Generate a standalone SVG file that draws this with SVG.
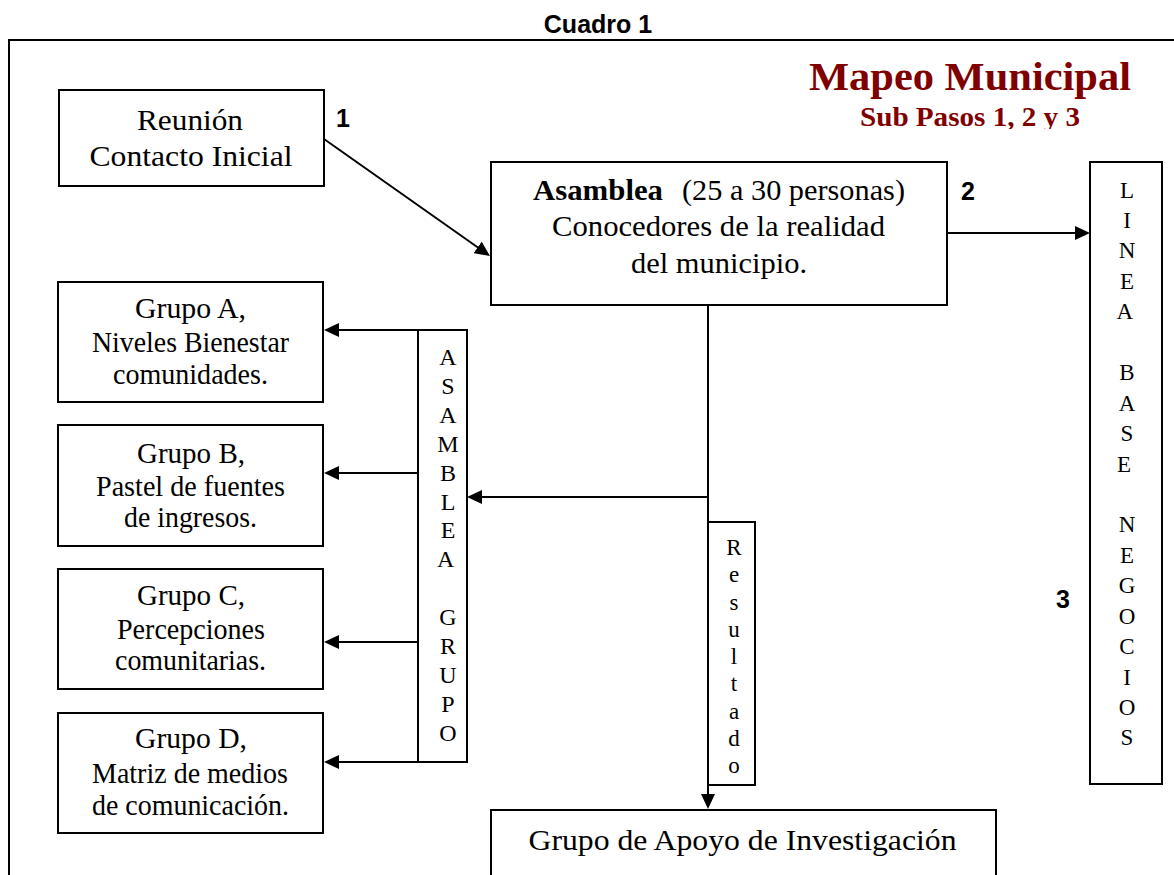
<svg xmlns="http://www.w3.org/2000/svg" width="1174" height="875" viewBox="0 0 1174 875">
<defs>
<style>
.box{fill:#fff;stroke:#000;stroke-width:2}
.frame{fill:none;stroke:#000;stroke-width:2}
.conn{fill:none;stroke:#000;stroke-width:2}
.serif{font-family:"Liberation Serif","Times New Roman",serif;fill:#000}
.c{text-anchor:middle}
.f28{font-size:30px}
.f27{font-size:28.5px}
.f29{font-size:30px}
.num{font-family:"Liberation Sans",Arial,sans-serif;font-weight:bold;font-size:25px;fill:#000;text-anchor:middle}
.title{font-family:"Liberation Serif","Times New Roman",serif;font-weight:bold;fill:#800000;text-anchor:middle}
.v{font-family:"Liberation Serif","Times New Roman",serif;font-size:23px;text-anchor:middle;fill:#000}
.v23{font-size:24px}
</style>
<marker id="arr" markerUnits="userSpaceOnUse" markerWidth="16" markerHeight="14" refX="12" refY="7" orient="auto"><path d="M0,0 L15,7 L0,14 z" fill="#000"/></marker>
<clipPath id="clipSub"><rect x="800" y="95" width="330" height="34"/></clipPath>
</defs>

<path class="frame" d="M9,875 V40 H1174"/>
<text class="num" x="598" y="33">Cuadro 1</text>

<g id="title">
<text class="title" x="970" y="90" font-size="41" textLength="322" lengthAdjust="spacingAndGlyphs">Mapeo Municipal</text>
<text class="title" x="970" y="126" font-size="27" textLength="220" lengthAdjust="spacingAndGlyphs" clip-path="url(#clipSub)">Sub Pasos 1, 2 y 3</text>
</g>

<g id="labels">
<text class="num" x="343" y="127">1</text>
<text class="num" x="968" y="200">2</text>
<text class="num" x="1063" y="608">3</text>
</g>

<g id="connectors">
<line class="conn" x1="324" y1="139" x2="487.5" y2="254.3" marker-end="url(#arr)"/>
<line class="conn" x1="947" y1="233" x2="1087" y2="233" marker-end="url(#arr)"/>
<line class="conn" x1="708" y1="305" x2="708" y2="806" marker-end="url(#arr)"/>
<line class="conn" x1="708" y1="497" x2="470" y2="497" marker-end="url(#arr)"/>
<line class="conn" x1="418" y1="330" x2="327" y2="330" marker-end="url(#arr)"/>
<line class="conn" x1="418" y1="473" x2="327" y2="473" marker-end="url(#arr)"/>
<line class="conn" x1="418" y1="642" x2="327" y2="642" marker-end="url(#arr)"/>
<line class="conn" x1="418" y1="762" x2="327" y2="762" marker-end="url(#arr)"/>
</g>

<g id="reunion">
<rect class="box" x="59" y="90" width="265" height="96"/>
<text class="serif c f28" x="190" y="130" textLength="106" lengthAdjust="spacingAndGlyphs">Reunión</text>
<text class="serif c f28" x="191" y="166" textLength="203" lengthAdjust="spacingAndGlyphs">Contacto Inicial</text>
</g>

<g id="asamblea">
<rect class="box" x="491" y="162" width="456" height="143"/>
<text class="serif f29" x="533" y="200" font-weight="bold" textLength="130" lengthAdjust="spacingAndGlyphs">Asamblea</text>
<text class="serif f29" x="682" y="200" textLength="223" lengthAdjust="spacingAndGlyphs">(25 a 30 personas)</text>
<text class="serif c f29" x="718.5" y="236" textLength="333" lengthAdjust="spacingAndGlyphs">Conocedores de la realidad</text>
<text class="serif c f29" x="719" y="273" textLength="176" lengthAdjust="spacingAndGlyphs">del municipio.</text>
</g>

<g id="linea-base">
<rect class="box" x="1090" y="162" width="72" height="622"/>
<text class="v">
<tspan x="1127" y="197.5">L</tspan><tspan x="1127" y="227.9">I</tspan><tspan x="1127" y="258.4">N</tspan><tspan x="1127" y="288.8">E</tspan><tspan x="1127" y="319.3">A</tspan>
<tspan x="1127" y="380.1">B</tspan><tspan x="1127" y="410.6">A</tspan><tspan x="1127" y="441">S</tspan><tspan x="1127" y="471.5">E</tspan>
<tspan x="1127" y="532.3">N</tspan><tspan x="1127" y="562.8">E</tspan><tspan x="1127" y="593.2">G</tspan><tspan x="1127" y="623.7">O</tspan><tspan x="1127" y="654.1">C</tspan><tspan x="1127" y="684.5">I</tspan><tspan x="1127" y="715">O</tspan><tspan x="1127" y="745.4">S</tspan>
</text>
</g>

<g id="asamblea-grupo">
<rect class="box" x="418" y="330" width="49" height="432"/>
<text class="v v23">
<tspan x="448" y="365">A</tspan><tspan x="448" y="393.9">S</tspan><tspan x="448" y="422.8">A</tspan><tspan x="448" y="451.7">M</tspan><tspan x="448" y="480.6">B</tspan><tspan x="448" y="509.5">L</tspan><tspan x="448" y="538.4">E</tspan><tspan x="448" y="567.3">A</tspan>
<tspan x="448" y="625.1">G</tspan><tspan x="448" y="654">R</tspan><tspan x="448" y="682.9">U</tspan><tspan x="448" y="711.8">P</tspan><tspan x="448" y="740.7">O</tspan>
</text>
</g>

<g id="resultado">
<rect class="box" x="708" y="522" width="47" height="263"/>
<text class="v">
<tspan x="734" y="555">R</tspan><tspan x="734" y="582.3">e</tspan><tspan x="734" y="609.5">s</tspan><tspan x="734" y="636.8">u</tspan><tspan x="734" y="664">l</tspan><tspan x="734" y="691.3">t</tspan><tspan x="734" y="718.5">a</tspan><tspan x="734" y="745.8">d</tspan><tspan x="734" y="773">o</tspan>
</text>
</g>

<g id="grupo-a">
<rect class="box" x="58" y="282" width="265" height="120"/>
<text class="serif c f27" x="190.5" y="318" textLength="111" lengthAdjust="spacingAndGlyphs">Grupo A,</text>
<text class="serif c f27" x="190.5" y="352" textLength="197" lengthAdjust="spacingAndGlyphs">Niveles Bienestar</text>
<text class="serif c f27" x="190.5" y="384" textLength="155" lengthAdjust="spacingAndGlyphs">comunidades.</text>
</g>

<g id="grupo-b">
<rect class="box" x="58" y="425" width="265" height="121"/>
<text class="serif c f27" x="191" y="463" textLength="108" lengthAdjust="spacingAndGlyphs">Grupo B,</text>
<text class="serif c f27" x="190.5" y="496" textLength="189" lengthAdjust="spacingAndGlyphs">Pastel de fuentes</text>
<text class="serif c f27" x="190.5" y="527" textLength="133" lengthAdjust="spacingAndGlyphs">de ingresos.</text>
</g>

<g id="grupo-c">
<rect class="box" x="58" y="569" width="265" height="120"/>
<text class="serif c f27" x="191" y="605" textLength="108" lengthAdjust="spacingAndGlyphs">Grupo C,</text>
<text class="serif c f27" x="191" y="639" textLength="148" lengthAdjust="spacingAndGlyphs">Percepciones</text>
<text class="serif c f27" x="190.5" y="670" textLength="151" lengthAdjust="spacingAndGlyphs">comunitarias.</text>
</g>

<g id="grupo-d">
<rect class="box" x="58" y="713" width="265" height="120"/>
<text class="serif c f27" x="191" y="748" textLength="112" lengthAdjust="spacingAndGlyphs">Grupo D,</text>
<text class="serif c f27" x="190" y="783" textLength="196" lengthAdjust="spacingAndGlyphs">Matriz de medios</text>
<text class="serif c f27" x="190.5" y="815" textLength="197" lengthAdjust="spacingAndGlyphs">de comunicación.</text>
</g>

<g id="grupo-apoyo">
<rect class="box" x="491" y="810" width="505" height="90"/>
<text class="serif c f28" x="742.5" y="850" textLength="428" lengthAdjust="spacingAndGlyphs">Grupo de Apoyo de Investigación</text>
</g>
</svg>
